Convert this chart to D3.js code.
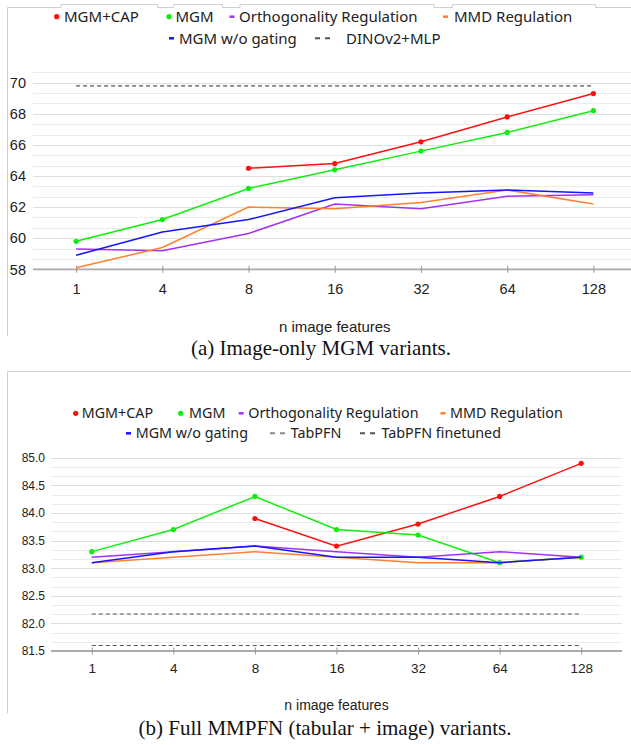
<!DOCTYPE html>
<html>
<head>
<meta charset="utf-8">
<script src="https://cdn.jsdelivr.net/npm/d3@7"></script>
<style>
  body { margin: 0; background: #fff; }
  svg { display: block; }
  .tick-label { font-family: "Liberation Sans", Arial, sans-serif; fill: #222; }
  .legend-text { font-family: "Noto Sans", "Open Sans", sans-serif; fill: #222; }
  .caption { font-family: "Liberation Serif", "Times New Roman", serif; fill: #111; }
</style>
</head>
<body>
<script>
// x categories (number of image features)
var nFeatures = ["1", "4", "8", "16", "32", "64", "128"];

// (a) image-only variants
var imgCap    = [null, null, 64.5, 64.8, 66.2, 67.8, 69.3];
var imgMgm    = [59.8, 61.2, 63.2, 64.4, 65.6, 66.8, 68.2];
var imgOrth   = [59.3, 59.2, 60.3, 62.2, 61.9, 62.7, 62.8];
var imgMmd    = [58.1, 59.4, 62.0, 61.9, 62.3, 63.1, 62.2];
var imgNoGate = [58.9, 60.4, 61.2, 62.6, 62.9, 63.1, 62.9];
var dinoMlp   = 69.8;
var imgTicks  = [58, 60, 62, 64, 66, 68, 70];

// (b) full MMPFN variants
var fullCap    = [null, null, 83.9, 83.4, 83.8, 84.3, 84.9];
var fullMgm    = [83.3, 83.7, 84.3, 83.7, 83.6, 83.1, 83.2];
var fullOrth   = [83.2, 83.3, 83.4, 83.3, 83.2, 83.3, 83.2];
var fullMmd    = [83.1, 83.2, 83.3, 83.2, 83.1, 83.1, 83.2];
var fullNoGate = [83.1, 83.3, 83.4, 83.2, 83.2, 83.1, 83.2];
var tabpfn     = 81.6;
var tabpfnFt   = 82.17;
var fullTicks  = [81.5, 82.0, 82.5, 83.0, 83.5, 84.0, 84.5, 85.0];

var colors = {
  cap: "#ff1010", mgm: "#10ee10", orth: "#a332f2",
  mmd: "#ff8030", nogate: "#1515ff", dash1: "#555", dash2: "#888"
};

var W = 631, H = 745;
var svg = d3.select("body").append("svg").attr("width", W).attr("height", H);

function drawPanel(p) {
  var g = svg.append("g");

  // frame
  g.append("path")
    .attr("d", p.frame)
    .attr("fill", "none").attr("stroke", "#cfcfcf").attr("stroke-width", 1);

  var x = d3.scalePoint().domain(nFeatures).range(p.xRange).padding(0.5);
  var y = d3.scaleLinear().domain(p.yDomain).range(p.yRange);

  // gridlines: 3 per labelled step
  var step = (p.ticks[1] - p.ticks[0]) / 3;
  var nLines = Math.round((p.yDomain[1] - p.yDomain[0]) / step);
  var grid = d3.range(nLines + 1).map(function(k) { return p.yDomain[0] + k * step; });
  g.append("g").selectAll("line").data(grid).enter().append("line")
    .attr("x1", p.xRange[0]).attr("x2", p.xRange[1])
    .attr("y1", function(d) { return Math.round(y(d)) + 0.5; })
    .attr("y2", function(d) { return Math.round(y(d)) + 0.5; })
    .attr("stroke", function(d, i) { return i % 3 === 0 ? "#dfdfdf" : "#ececec"; })
    .attr("stroke-width", 1);

  // y labels
  g.append("g").selectAll("text").data(p.ticks).enter().append("text")
    .attr("class", "tick-label")
    .attr("x", p.yLabelX).attr("y", function(d) { return y(d); })
    .attr("dy", "0.36em")
    .attr("text-anchor", "end")
    .style("font-size", p.yFont + "px")
    .text(p.yFormat);

  // x axis
  var xAxis = g.append("g").attr("transform", "translate(0," + y(p.yDomain[0]) + ")")
    .call(d3.axisBottom(x).tickSize(0).tickPadding(p.xLabelPad));
  xAxis.select(".domain").remove();
  xAxis.selectAll("text").attr("class", "tick-label").style("font-size", p.xFont + "px");
  xAxis.insert("line", ":first-child")
    .attr("x1", p.xRange[0]).attr("x2", p.xRange[1])
    .attr("stroke", "#aaa").attr("stroke-width", 1.8);
  xAxis.selectAll(".tick").append("line")
    .attr("y1", -3.5).attr("y2", 3.5).attr("stroke", "#999").attr("stroke-width", 1);

  // reference dashed lines
  p.refs.forEach(function(r) {
    g.append("line")
      .attr("x1", x(nFeatures[0])).attr("x2", x(nFeatures[nFeatures.length - 1]))
      .attr("y1", y(r.value)).attr("y2", y(r.value))
      .attr("stroke", r.color).attr("stroke-width", 1.2)
      .attr("stroke-dasharray", "4,3");
  });

  // series lines
  var line = d3.line()
    .defined(function(d) { return d != null; })
    .x(function(d, i) { return x(nFeatures[i]); })
    .y(function(d) { return y(d); });
  p.series.forEach(function(s) {
    g.append("path").datum(s.values)
      .attr("fill", "none").attr("stroke", s.color).attr("stroke-width", 1.5)
      .attr("d", line);
    if (s.dots) {
      g.append("g").selectAll("circle")
        .data(s.values.map(function(v, i) { return {v: v, i: i}; }).filter(function(d) { return d.v != null; }))
        .enter().append("circle")
        .attr("cx", function(d) { return x(nFeatures[d.i]); })
        .attr("cy", function(d) { return y(d.v); })
        .attr("r", 2.6).attr("fill", s.color);
    }
  });

  // axis title
  g.append("text").attr("class", "tick-label")
    .attr("x", (p.xRange[0] + p.xRange[1]) / 2).attr("y", p.titleY)
    .attr("text-anchor", "middle").style("font-size", p.titleFont + "px")
    .text("n image features");

  // legend
  p.legend.forEach(function(l) {
    if (l.kind === "dot") {
      g.append("circle").attr("cx", l.mx).attr("cy", l.y).attr("r", 2.6).attr("fill", l.color);
    } else if (l.kind === "dash") {
      g.append("line").attr("x1", l.mx).attr("x2", l.mx + 5).attr("y1", l.y).attr("y2", l.y)
        .attr("stroke", l.color).attr("stroke-width", 2.5);
    } else {
      g.append("line").attr("x1", l.mx).attr("x2", l.mx + 15).attr("y1", l.y).attr("y2", l.y)
        .attr("stroke", l.color).attr("stroke-width", 2).attr("stroke-dasharray", "5,5");
    }
    g.append("text").attr("class", "legend-text")
      .attr("x", l.tx).attr("y", l.y).attr("dy", "0.35em")
      .style("font-size", p.legendFont + "px")
      .text(l.name);
  });

  // caption
  g.append("text").attr("class", "caption")
    .attr("x", p.captionX).attr("y", p.captionY)
    .attr("text-anchor", "middle").style("font-size", "21px")
    .text(p.caption);
}

// panel (a)
drawPanel({
  frame: "M7.5,336 V7.5 H61 V4.5 H157.5 V7.5 H173.5 V4.5 H222.5 V7.5 H240 V4.5 H434 V7.5 H452.5 V4.5 H595.5 V7.5 H640",
  xRange: [33, 636.5],
  yDomain: [58, 58 + 38 / 3],
  yRange: [269.3, 269.3 - (38 / 3) * 15.55],
  ticks: imgTicks,
  yFormat: d3.format("d"),
  yLabelX: 26, yFont: 14.5,
  xFont: 14.5, xLabelPad: 14,
  titleY: 332, titleFont: 15,
  refs: [{value: dinoMlp, color: colors.dash1}],
  series: [
    {values: imgCap, color: colors.cap, dots: true},
    {values: imgMgm, color: colors.mgm, dots: true},
    {values: imgOrth, color: colors.orth},
    {values: imgMmd, color: colors.mmd},
    {values: imgNoGate, color: colors.nogate}
  ],
  legendFont: 15,
  legend: [
    {kind: "dot", color: colors.cap, mx: 56.7, tx: 64, y: 16.7, name: "MGM+CAP"},
    {kind: "dot", color: colors.mgm, mx: 169, tx: 175.5, y: 16.7, name: "MGM"},
    {kind: "dash", color: colors.orth, mx: 229.5, tx: 239, y: 16.7, name: "Orthogonality Regulation"},
    {kind: "dash", color: colors.mmd, mx: 443, tx: 454, y: 16.7, name: "MMD Regulation"},
    {kind: "dash", color: colors.nogate, mx: 169, tx: 179, y: 38.3, name: "MGM w/o gating"},
    {kind: "ddash", color: colors.dash1, mx: 315, tx: 346, y: 38.3, name: "DINOv2+MLP"}
  ],
  caption: "(a) Image-only MGM variants.",
  captionX: 321, captionY: 355
});

// panel (b)
drawPanel({
  frame: "M7.5,713.5 V371.5 H640",
  xRange: [51, 622],
  yDomain: [81.5, 85],
  yRange: [651, 651 - 3.5 * 55.2],
  ticks: fullTicks,
  yFormat: d3.format(".1f"),
  yLabelX: 45, yFont: 12,
  xFont: 13.5, xLabelPad: 12,
  titleY: 710, titleFont: 14,
  refs: [{value: tabpfn, color: colors.dash1}, {value: tabpfnFt, color: colors.dash1}],
  series: [
    {values: fullCap, color: colors.cap, dots: true},
    {values: fullMgm, color: colors.mgm, dots: true},
    {values: fullOrth, color: colors.orth},
    {values: fullMmd, color: colors.mmd},
    {values: fullNoGate, color: colors.nogate}
  ],
  legendFont: 14.3,
  legend: [
    {kind: "dot", color: colors.cap, mx: 75.7, tx: 81.7, y: 413.3, name: "MGM+CAP"},
    {kind: "dot", color: colors.mgm, mx: 180.7, tx: 189, y: 413.3, name: "MGM"},
    {kind: "dash", color: colors.orth, mx: 238.7, tx: 248.3, y: 413.3, name: "Orthogonality Regulation"},
    {kind: "dash", color: colors.mmd, mx: 440.5, tx: 450, y: 413.3, name: "MMD Regulation"},
    {kind: "dash", color: colors.nogate, mx: 126, tx: 135.7, y: 433.3, name: "MGM w/o gating"},
    {kind: "ddash", color: colors.dash2, mx: 270, tx: 290.7, y: 433.3, name: "TabPFN"},
    {kind: "ddash", color: colors.dash1, mx: 360, tx: 381.5, y: 433.3, name: "TabPFN finetuned"}
  ],
  caption: "(b) Full MMPFN (tabular + image) variants.",
  captionX: 325, captionY: 735
});
</script>
</body>
</html>
